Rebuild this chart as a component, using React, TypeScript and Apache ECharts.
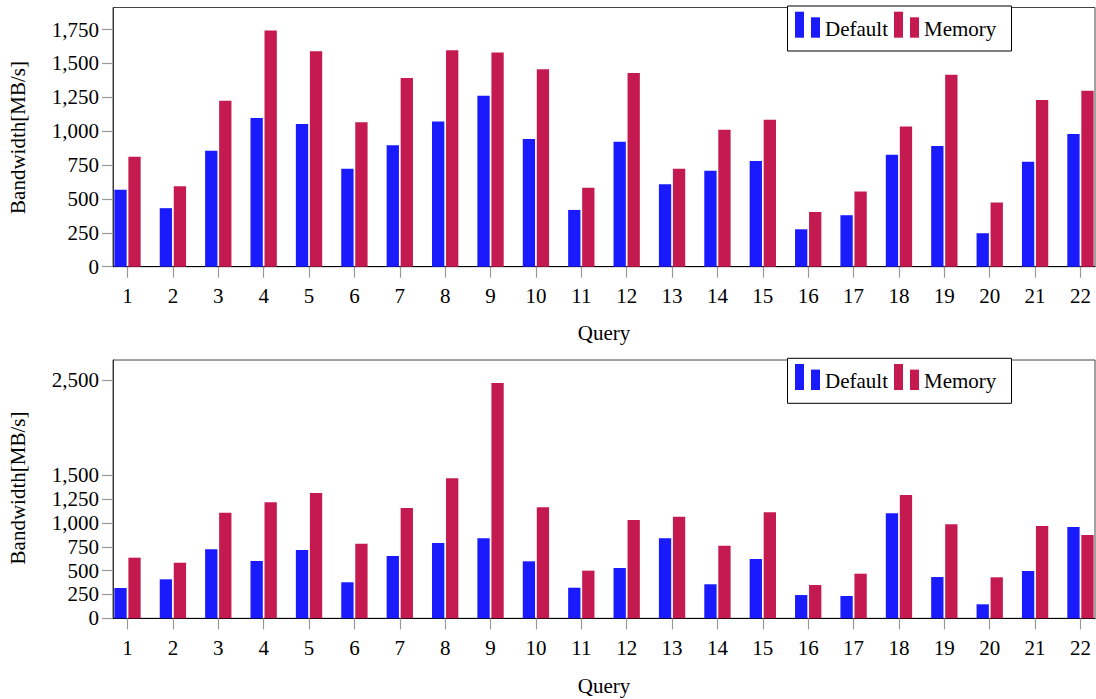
import React, { useEffect, useRef } from 'react';
import * as echarts from 'echarts';

const queries = [1, 2, 3, 4, 5, 6, 7, 8, 9, 10, 11, 12, 13, 14, 15, 16, 17, 18, 19, 20, 21, 22];

const topDefault = [567, 432, 855, 1097, 1053, 722, 897, 1072, 1262, 942, 419, 922, 609, 708, 781, 276, 380, 826, 890, 247, 774, 979];
const topMemory = [811, 594, 1225, 1743, 1590, 1067, 1393, 1597, 1580, 1457, 582, 1430, 722, 1011, 1085, 404, 555, 1035, 1417, 473, 1230, 1299];

const bottomDefault = [318, 409, 724, 601, 717, 378, 654, 790, 839, 598, 321, 528, 839, 357, 622, 244, 234, 1101, 433, 147, 496, 958];
const bottomMemory = [636, 583, 1108, 1217, 1315, 783, 1157, 1469, 2469, 1164, 500, 1031, 1066, 762, 1112, 349, 468, 1294, 986, 430, 968, 874];

const topTicks = [0, 250, 500, 750, 1000, 1250, 1500, 1750];
const bottomTicks = [0, 250, 500, 750, 1000, 1250, 1500, 2500];

const seriesNames = ['Default', 'Memory'];
const xTitle = 'Query';
const yTitle = 'Bandwidth[MB/s]';

const BLUE = '#1A1AFF';
const RED = '#C41A50';
const FONT = 'Liberation Serif';

const fmt = (v: number) => v.toLocaleString('en-US');

function legendGraphics(dy: number) {
  const style = { fill: '#000', font: `21px "${FONT}"` };
  return [
    { type: 'rect', shape: { x: 787.5, y: 6 + dy, width: 224, height: 45 }, style: { fill: '#fff', stroke: '#000', lineWidth: 1 }, z: 100 },
    { type: 'rect', shape: { x: 795, y: 11.7 + dy, width: 9, height: 26 }, style: { fill: BLUE }, z: 101 },
    { type: 'rect', shape: { x: 811, y: 17.3 + dy, width: 9, height: 20.4 }, style: { fill: BLUE }, z: 101 },
    { type: 'text', x: 825, y: 29 + dy, style: { ...style, text: seriesNames[0], align: 'left', textAlign: 'left', verticalAlign: 'middle', textVerticalAlign: 'middle' }, z: 101 },
    { type: 'rect', shape: { x: 894, y: 11.7 + dy, width: 9, height: 26 }, style: { fill: RED }, z: 101 },
    { type: 'rect', shape: { x: 910, y: 17.3 + dy, width: 9, height: 20.4 }, style: { fill: RED }, z: 101 },
    { type: 'text', x: 924, y: 29 + dy, style: { ...style, text: seriesNames[1], align: 'left', textAlign: 'left', verticalAlign: 'middle', textVerticalAlign: 'middle' }, z: 101 },
  ];
}

function titleGraphics(xTitleY: number, yTitleY: number) {
  const base = { fill: '#000', font: `21px "${FONT}"`, align: 'center', textAlign: 'center', verticalAlign: 'middle', textVerticalAlign: 'middle' };
  return [
    { type: 'text', x: 604, y: xTitleY, style: { ...base, text: xTitle } },
    { type: 'text', x: 18, y: yTitleY, rotation: Math.PI / 2, style: { ...base, text: yTitle } },
  ];
}

function xAxisFor(gridIndex: number) {
  return {
    type: 'value',
    gridIndex,
    min: 0.68,
    max: 22.32,
    splitLine: { show: false },
    axisLine: { show: true, onZero: false, lineStyle: { color: '#000', width: 1.2 } },
    axisTick: { show: true, customValues: queries, length: 11, lineStyle: { color: '#999', width: 1.2 } },
    axisLabel: { show: true, customValues: queries, color: '#000', fontFamily: FONT, fontSize: 21, margin: 19 },
  };
}

function yAxisFor(gridIndex: number, max: number, ticks: number[]) {
  return {
    type: 'value',
    gridIndex,
    min: 0,
    max,
    splitLine: { show: false },
    axisLine: { show: true, onZero: false, lineStyle: { color: '#333', width: 1 } },
    axisTick: { show: true, customValues: ticks, length: 11, lineStyle: { color: '#999', width: 1.2 } },
    axisLabel: { show: true, customValues: ticks, color: '#000', fontFamily: FONT, fontSize: 21, margin: 14, formatter: (v: number) => fmt(v) },
  };
}

function barSeries(name: string, values: number[], color: string, idx: number) {
  return {
    name,
    type: 'bar',
    xAxisIndex: idx,
    yAxisIndex: idx,
    barWidth: 12.3,
    barGap: '14%',
    data: queries.map((q, i) => [q, values[i]]),
    itemStyle: { color },
  };
}

export default function App() {
  const ref = useRef<HTMLDivElement>(null);
  useEffect(() => {
    if (!ref.current) return;
    const chart = echarts.init(ref.current, undefined, { renderer: 'svg' });
    chart.setOption({
      animation: false,
      backgroundColor: '#fff',
      grid: [
        { left: 113, right: 1, top: 7.5, height: 259.2, show: true, borderColor: '#444', borderWidth: 1, backgroundColor: 'transparent' },
        { left: 113, right: 1, top: 360, height: 258.3, show: true, borderColor: '#444', borderWidth: 1, backgroundColor: 'transparent' },
      ],
      xAxis: [xAxisFor(0), xAxisFor(1)],
      yAxis: [yAxisFor(0, 1913, topTicks), yAxisFor(1, 2710, bottomTicks)],
      series: [
        barSeries(seriesNames[0], topDefault, BLUE, 0),
        barSeries(seriesNames[1], topMemory, RED, 0),
        barSeries(seriesNames[0], bottomDefault, BLUE, 1),
        barSeries(seriesNames[1], bottomMemory, RED, 1),
      ],
      graphic: [
        ...legendGraphics(0),
        ...legendGraphics(352.3),
        ...titleGraphics(333, 137.5),
        ...titleGraphics(686, 488),
      ],
    });
    return () => chart.dispose();
  }, []);
  return <div ref={ref} style={{ position: 'absolute', left: 0, top: 0, width: 1096, height: 699 }} />;
}
